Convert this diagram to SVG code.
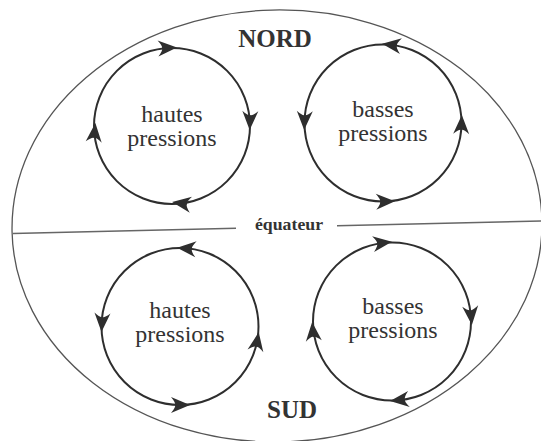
<svg xmlns="http://www.w3.org/2000/svg" xmlns:xlink="http://www.w3.org/1999/xlink" width="541" height="441" viewBox="0 0 541 441">
<style>
.bg{fill:#ffffff}
.globe{fill:none;stroke:#555;stroke-width:1.3}
.eq{fill:none;stroke:#666;stroke-width:1.4}
.cyc{fill:none;stroke:#2e2e2e;stroke-width:2}
.ah{fill:#2e2e2e}
.lbl{font-family:"Liberation Serif","Times New Roman",serif;font-size:24px;fill:#333;text-anchor:middle}
.hemi{font-family:"Liberation Serif","Times New Roman",serif;font-size:25px;font-weight:bold;fill:#333;text-anchor:middle}
.eqt{font-family:"Liberation Serif","Times New Roman",serif;font-size:16px;font-weight:bold;fill:#333;text-anchor:middle}
</style>
<defs>
<path id="ah" d="M10,0 L-9,-8 Q-4,-2 -5,0 Q-4,2 -9,8 Z"/>
</defs>
<rect class="bg" x="0" y="0" width="541" height="441"/>
<g id="globe">
<ellipse class="globe" cx="277" cy="226" rx="265" ry="216" transform="rotate(-1.3 277 226)"/>
</g>
<g id="equator">
<line class="eq" x1="13" y1="233.5" x2="236" y2="228.3"/>
<line class="eq" x1="337" y1="225.8" x2="541" y2="221"/>
<text class="eqt" x="289" y="230" textLength="68" lengthAdjust="spacingAndGlyphs">équateur</text>
</g>
<g id="nord"><text class="hemi" x="275" y="47">NORD</text></g>
<g id="sud"><text class="hemi" x="292" y="418">SUD</text></g>
<g id="hp-nord">
<circle class="cyc" cx="172" cy="126" r="78"/>
<text class="lbl" x="172" y="122">hautes</text>
<text class="lbl" x="172" y="146">pressions</text>
</g>
<g id="bp-nord">
<circle class="cyc" cx="383" cy="123" r="78.5"/>
<text class="lbl" x="383" y="117">basses</text>
<text class="lbl" x="383" y="141">pressions</text>
</g>
<g id="hp-sud">
<circle class="cyc" cx="180" cy="326.5" r="78.5"/>
<text class="lbl" x="180" y="318">hautes</text>
<text class="lbl" x="180" y="342">pressions</text>
</g>
<g id="bp-sud">
<circle class="cyc" cx="392" cy="321.5" r="79"/>
<text class="lbl" x="393" y="314">basses</text>
<text class="lbl" x="393" y="338">pressions</text>
</g>
<g id="connectors" class="ah">
<use xlink:href="#ah" transform="translate(167,48) rotate(-3)"/>
<use xlink:href="#ah" transform="translate(250,120) rotate(92)"/>
<use xlink:href="#ah" transform="translate(182,203.5) rotate(188)"/>
<use xlink:href="#ah" transform="translate(94.5,133) rotate(-85)"/>
<use xlink:href="#ah" transform="translate(392,45) rotate(187)"/>
<use xlink:href="#ah" transform="translate(304.5,120) rotate(92)"/>
<use xlink:href="#ah" transform="translate(385,201.5) rotate(-2)"/>
<use xlink:href="#ah" transform="translate(461.5,125) rotate(-88)"/>
<use xlink:href="#ah" transform="translate(187,248.5) rotate(185)"/>
<use xlink:href="#ah" transform="translate(102,322) rotate(93)"/>
<use xlink:href="#ah" transform="translate(180,405) rotate(0)"/>
<use xlink:href="#ah" transform="translate(257,342) rotate(-80)"/>
<use xlink:href="#ah" transform="translate(382,243) rotate(-7)"/>
<use xlink:href="#ah" transform="translate(471,315) rotate(85)"/>
<use xlink:href="#ah" transform="translate(400,400) rotate(174)"/>
<use xlink:href="#ah" transform="translate(313,332) rotate(-95)"/>
</g>
</svg>
